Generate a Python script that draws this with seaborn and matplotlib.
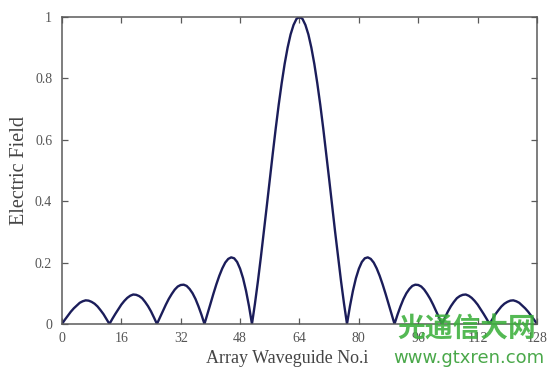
import numpy as np
import pandas as pd
import matplotlib
matplotlib.use("Agg")
import matplotlib.pyplot as plt
import seaborn as sns

# ---- data ----
x_start, x_end, n_points = 0, 128, 161
electric_field = [
    0.000, 0.014, 0.027, 0.040, 0.051, 0.060, 0.069, 0.074, 0.077, 0.076,
    0.072, 0.066, 0.057, 0.045, 0.032, 0.016, 0.000, 0.017, 0.033, 0.048,
    0.063, 0.075, 0.085, 0.092, 0.096, 0.095, 0.091, 0.084, 0.072, 0.058,
    0.041, 0.021, 0.000, 0.021, 0.042, 0.063, 0.082, 0.098, 0.112, 0.122,
    0.127, 0.128, 0.124, 0.114, 0.100, 0.081, 0.057, 0.030, 0.000, 0.032,
    0.065, 0.098, 0.129, 0.157, 0.181, 0.200, 0.212, 0.217, 0.214, 0.202,
    0.180, 0.149, 0.108, 0.058, 0.000, 0.066, 0.139, 0.218, 0.300, 0.385,
    0.471, 0.555, 0.637, 0.714, 0.784, 0.847, 0.900, 0.943, 0.974, 0.994,
    1.000,
    0.994, 0.974, 0.943, 0.900, 0.847, 0.784, 0.714, 0.637, 0.555, 0.471,
    0.385, 0.300, 0.218, 0.139, 0.066, 0.000, 0.058, 0.108, 0.149, 0.180,
    0.202, 0.214, 0.217, 0.212, 0.200, 0.181, 0.157, 0.129, 0.098, 0.065,
    0.032, 0.000, 0.030, 0.057, 0.081, 0.100, 0.114, 0.124, 0.128, 0.127,
    0.122, 0.112, 0.098, 0.082, 0.063, 0.042, 0.021, 0.000, 0.021, 0.041,
    0.058, 0.072, 0.084, 0.091, 0.095, 0.096, 0.092, 0.085, 0.075, 0.063,
    0.048, 0.033, 0.017, 0.000, 0.016, 0.032, 0.045, 0.057, 0.066, 0.072,
    0.076, 0.077, 0.074, 0.069, 0.060, 0.051, 0.040, 0.027, 0.014, 0.000,
]
x_ticks = [0, 16, 32, 48, 64, 80, 96, 112, 128]
y_ticks = [0, 0.2, 0.4, 0.6, 0.8, 1]
y_tick_labels = ["0", "0.2", "0.4", "0.6", "0.8", "1"]
x_label = "Array Waveguide No.i"
y_label = "Electric Field"
watermark_cn = "光通信大网"
watermark_url = "www.gtxren.com"

waveguide = np.linspace(x_start, x_end, n_points)
df = pd.DataFrame({"waveguide": waveguide, "field": electric_field})

sns.set_style("ticks")
plt.rcParams["font.family"] = ["Liberation Serif", "DejaVu Serif"]

fig = plt.figure(figsize=(5.48, 3.69), dpi=100)
ax = fig.add_axes([0.113, 0.122, 0.867, 0.832])

sns.lineplot(data=df, x="waveguide", y="field", ax=ax, color="#1b1d5a",
             linewidth=1.7, sort=False)

ax.set_xlim(0, 128)
ax.set_ylim(0, 1)
ax.set_xticks(x_ticks)
ax.set_xticklabels([str(t) for t in x_ticks])
ax.set_yticks(y_ticks)
ax.set_yticklabels(y_tick_labels)

spine_col = "#5a5a5a"
for s in ax.spines.values():
    s.set_visible(True)
    s.set_color(spine_col)
    s.set_linewidth(1.1)

ax.tick_params(axis="both", direction="in", length=4, width=0.9,
               colors=spine_col, labelcolor="#555555", labelsize=10,
               top=True, right=True)
ax.tick_params(axis="x", pad=6)
ax.tick_params(axis="y", pad=7)

ax.set_xlabel(x_label, fontsize=13, color="#444444")
ax.xaxis.set_label_coords(0.475, -0.085)
ax.set_ylabel(y_label, fontsize=14.5, color="#444444", labelpad=4)

fig.text(0.851, 0.108, watermark_cn, fontsize=20, fontweight="bold",
         color="#3cb03c", alpha=0.88, ha="center", va="center",
         family=["Noto Sans CJK SC", "DejaVu Sans"], zorder=10)
fig.text(0.855, 0.03, watermark_url, fontsize=13, color="#4aa84a",
         ha="center", va="center", family=["DejaVu Sans"], zorder=10)

fig.savefig("out.png", dpi=100, facecolor="white")
